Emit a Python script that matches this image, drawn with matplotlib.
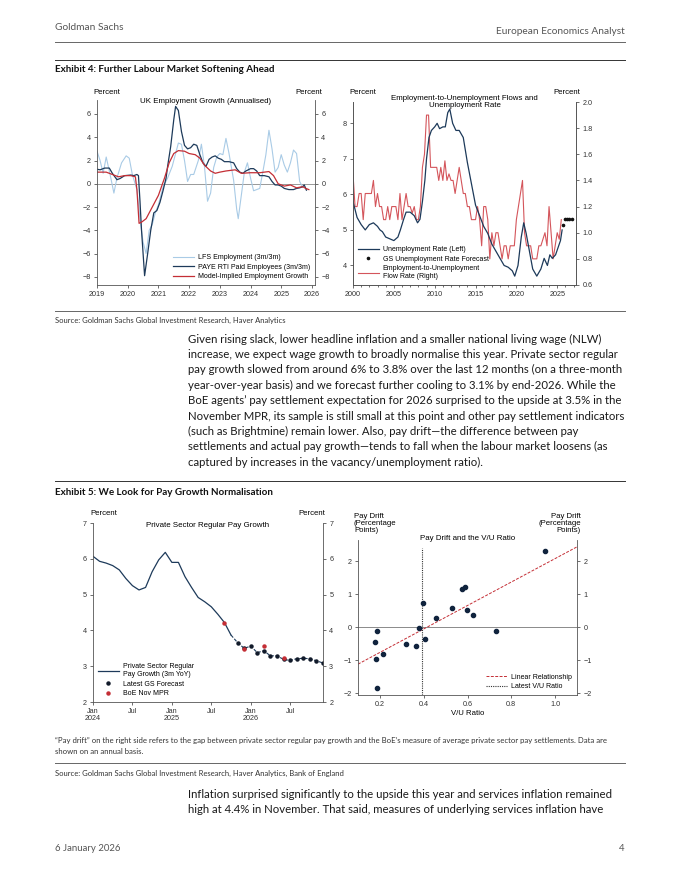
import numpy as np
import matplotlib
matplotlib.use("Agg")
from matplotlib import pyplot as plt
from matplotlib.lines import Line2D

# ---- page text ----
header_left = "Goldman Sachs"
header_right = "European Economics Analyst"
ex4_title = "Exhibit 4: Further Labour Market Softening Ahead"
ex4_source = "Source: Goldman Sachs Global Investment Research, Haver Analytics"
body1 = [
    "Given rising slack, lower headline inflation and a smaller national living wage (NLW)",
    "increase, we expect wage growth to broadly normalise this year. Private sector regular",
    "pay growth slowed from around 6% to 3.8% over the last 12 months (on a three-month",
    "year-over-year basis) and we forecast further cooling to 3.1% by end-2026. While the",
    "BoE agents\u2019 pay settlement expectation for 2026 surprised to the upside at 3.5% in the",
    "November MPR, its sample is still small at this point and other pay settlement indicators",
    "(such as Brightmine) remain lower. Also, pay drift\u2014the difference between pay",
    "settlements and actual pay growth\u2014tends to fall when the labour market loosens (as",
    "captured by increases in the vacancy/unemployment ratio).",
]
ex5_title = "Exhibit 5: We Look for Pay Growth Normalisation"
ex5_note = [
    "\u201cPay drift\u201d on the right side refers to the gap between private sector regular pay growth and the BoE\u2019s measure of average private sector pay settlements. Data are",
    "shown on an annual basis.",
]
ex5_source = "Source: Goldman Sachs Global Investment Research, Haver Analytics, Bank of England"
body2 = [
    "Inflation surprised significantly to the upside this year and services inflation remained",
    "high at 4.4% in November. That said, measures of underlying services inflation have",
]
footer_left = "6 January 2026"
footer_right = "4"

# ---- Exhibit 4 left: UK employment growth ----
paye_t = [2019.0, 2019.1, 2019.25, 2019.4, 2019.5, 2019.65, 2019.75, 2019.9, 2020.1, 2020.2,
          2020.3, 2020.35, 2020.4, 2020.45, 2020.55, 2020.65, 2020.75, 2020.85, 2020.95, 2021.05,
          2021.15, 2021.25, 2021.3, 2021.4, 2021.5, 2021.56, 2021.65, 2021.75, 2021.85, 2021.95,
          2022.05, 2022.15, 2022.25, 2022.35, 2022.45, 2022.55, 2022.65, 2022.75, 2022.85, 2022.95,
          2023.05, 2023.15, 2023.3, 2023.45, 2023.55, 2023.65, 2023.75, 2023.85, 2024.0, 2024.1,
          2024.2, 2024.3, 2024.45, 2024.6, 2024.7, 2024.8, 2024.9, 2025.0, 2025.1, 2025.25,
          2025.4, 2025.5, 2025.6, 2025.7, 2025.75, 2025.82]
paye_v = [1.25, 1.2, 1.35, 1.35, 0.9, 0.35, 0.45, 0.7, 0.75, 0.7,
          0.8, 0.7, -1.5, -4.0, -7.9, -6.0, -4.0, -2.5, -2.3, -1.6,
          -0.6, 0.5, 1.5, 3.2, 5.5, 6.65, 6.3, 4.5, 3.3, 3.0,
          3.1, 3.4, 3.3, 2.5, 1.8, 1.5, 2.1, 2.3, 2.4, 2.2,
          2.1, 1.9, 1.9, 1.8, 1.3, 1.0, 0.9, 1.1, 1.3, 1.3,
          1.1, 0.7, 0.7, 0.6, 0.2, -0.1, -0.1, -0.2, -0.4, -0.5,
          -0.5, -0.4, -0.35, -0.25, -0.1, -0.55]
model_t = [2019.0, 2019.3, 2019.5, 2019.7, 2019.9, 2020.1, 2020.25, 2020.3, 2020.37, 2020.45,
           2020.6, 2020.8, 2021.0, 2021.2, 2021.35, 2021.5, 2021.65, 2021.85, 2022.0, 2022.2,
           2022.35, 2022.5, 2022.7, 2022.85, 2023.0, 2023.2, 2023.5, 2023.7, 2024.0, 2024.3,
           2024.6, 2024.75, 2024.9, 2025.1, 2025.3, 2025.5, 2025.7, 2025.8, 2025.9]
model_v = [1.0, 1.0, 0.8, 0.6, 0.7, 0.7, 0.6, -0.5, -3.4, -3.3,
           -3.0, -2.0, -1.0, 0.5, 1.8, 2.6, 2.85, 2.8, 2.6, 2.5,
           2.2, 1.6, 1.1, 0.9, 1.0, 1.1, 1.2, 0.9, 0.95, 0.95,
           1.05, 0.7, 0.0, -0.2, -0.1, -0.35, -0.25, -0.4, -0.5]
lfs_t = [2019.0, 2019.1, 2019.2, 2019.3, 2019.45, 2019.55, 2019.65, 2019.8, 2019.95, 2020.05,
         2020.15, 2020.3, 2020.4, 2020.5, 2020.6, 2020.7, 2020.8, 2020.9, 2021.0, 2021.15,
         2021.3, 2021.45, 2021.55, 2021.65, 2021.75, 2021.85, 2021.95, 2022.05, 2022.15, 2022.3,
         2022.4, 2022.5, 2022.6, 2022.7, 2022.8, 2022.9, 2023.0, 2023.1, 2023.2, 2023.3,
         2023.45, 2023.55, 2023.6, 2023.7, 2023.8, 2023.9, 2024.0, 2024.1, 2024.2, 2024.3,
         2024.4, 2024.5, 2024.6, 2024.7, 2024.8, 2024.9, 2025.0, 2025.1, 2025.2, 2025.3,
         2025.4, 2025.5, 2025.6, 2025.7]
lfs_v = [2.8, 2.0, 0.9, 2.3, 0.5, -0.8, 0.5, 1.8, 2.4, 2.2,
         0.8, -0.5, -3.0, -5.0, -6.0, -4.0, -3.5, -2.5, -1.8, -0.3,
         0.5, 1.5, 2.5, 3.5, 3.4, 2.0, 0.2, 0.8, 0.8, 2.0,
         3.4, 1.5, -1.5, -0.8, 1.4, 2.3, 2.6, 2.5, 3.9, 2.6,
         0.3, -2.2, -3.0, -1.0, 1.0, 1.8, 0.5, -0.6, -0.5, -0.4,
         1.0, 2.5, 4.6, 3.0, 1.0, 1.4, 2.5, 1.6, 1.0, 1.8,
         2.9, 2.6, 0.2, -0.3]

# ---- Exhibit 4 right: unemployment rate and E-to-U flows ----
ur_t = [2000.0, 2000.5, 2001.0, 2001.5, 2002.0, 2002.5, 2003.0, 2003.3, 2003.6, 2004.0,
        2004.5, 2005.0, 2005.5, 2005.8, 2006.2, 2006.5, 2007.0, 2007.5, 2007.9, 2008.2,
        2008.5, 2008.8, 2009.0, 2009.3, 2009.6, 2010.0, 2010.3, 2010.6, 2011.0, 2011.3,
        2011.6, 2011.85, 2012.2, 2012.6, 2013.0, 2013.5, 2014.0, 2014.5, 2015.0, 2015.5,
        2016.0, 2016.5, 2017.0, 2017.5, 2018.0, 2018.5, 2019.0, 2019.5, 2019.8, 2020.2,
        2020.6, 2020.9, 2021.2, 2021.6, 2022.0, 2022.5, 2023.0, 2023.4, 2023.8, 2024.1,
        2024.4, 2024.8, 2025.1, 2025.4, 2025.6]
ur_v = [5.8, 5.35, 5.15, 5.0, 5.15, 5.2, 5.1, 5.0, 4.95, 4.8,
        4.75, 4.7, 4.8, 5.0, 5.3, 5.5, 5.5, 5.4, 5.2, 5.3,
        5.8, 6.4, 7.0, 7.6, 7.8, 7.9, 8.0, 7.85, 7.9, 7.9,
        8.3, 8.4, 8.0, 7.8, 7.8, 7.6, 6.9, 6.3, 5.7, 5.4,
        5.1, 4.9, 4.6, 4.4, 4.2, 4.0, 3.95, 3.85, 3.7, 4.0,
        4.8, 5.2, 4.9, 4.4, 3.9, 3.7, 3.9, 4.2, 4.0, 4.3,
        4.2, 4.3, 4.5, 4.7, 5.0]
ur_fc_t = [2025.75, 2026.0, 2026.25, 2026.5, 2026.75]
ur_fc_v = [5.15, 5.3, 5.3, 5.3, 5.3]
flow_t0 = 2000.0  # quarterly from Q1 2000
flow_v = [1.45, 1.2, 1.2, 1.3, 1.3, 1.1, 1.3, 1.3, 1.3, 1.3,
          1.4, 1.2, 1.3, 1.2, 1.2, 1.1, 1.1, 1.2, 1.1, 1.2,
          1.2, 1.2, 1.1, 1.3, 1.1, 1.2, 1.3, 1.2, 1.2, 1.15,
          1.2, 1.1, 1.1, 1.2, 1.5, 1.6, 1.9, 1.9, 1.5, 1.5,
          1.5, 1.5, 1.4, 1.5, 1.4, 1.55, 1.4, 1.45, 1.4, 1.4,
          1.3, 1.4, 1.5, 1.4, 1.3, 1.3, 1.2, 1.2, 1.1, 1.1,
          1.1, 1.2, 1.1, 0.9, 1.2, 1.2, 1.1, 0.8, 1.0, 0.9,
          1.0, 1.0, 0.9, 0.8, 0.9, 0.9, 0.8, 0.9, 0.9, 0.9,
          1.1, 1.2, 1.3, 1.4, 1.0, 0.9, 0.9, 0.9, 0.8, 0.8,
          0.8, 0.9, 0.9, 0.95, 1.0, 0.9, 1.2, 1.0, 0.8, 0.9,
          1.0, 0.95, 1.1]

# ---- Exhibit 5 left: private sector regular pay growth (months since Jan 2024) ----
pay_actual = [6.07, 5.93, 5.88, 5.81, 5.69, 5.45, 5.25, 5.13, 5.2, 5.64,
              5.97, 6.18, 5.9, 5.9, 5.5, 5.2, 4.92, 4.8, 4.66, 4.45,
              4.22, 3.87]
pay_fc = [3.66, 3.50, 3.56, 3.38, 3.43, 3.29, 3.29, 3.19, 3.16, 3.21,
          3.22, 3.21, 3.15, 3.09]
boe_m = [20, 23, 26, 29]
boe_v = [4.22, 3.48, 3.57, 3.24]
pay_ticks = [0, 6, 12, 18, 24, 30]
pay_ticklabels = ["Jan\n2024", "Jul", "Jan\n2025", "Jul", "Jan\n2026", "Jul"]

# ---- Exhibit 5 right: pay drift vs V/U ratio ----
vu = [0.952, 0.577, 0.589, 0.398, 0.529, 0.597, 0.627, 0.454, 0.378, 0.728,
      0.186, 0.179, 0.408, 0.319, 0.366, 0.212, 0.183, 0.189]
drift = [2.32, 1.17, 1.21, 0.74, 0.60, 0.53, 0.38, 0.28, -0.03, -0.12,
         -0.10, -0.44, -0.35, -0.50, -0.56, -0.82, -0.95, -1.83]
latest_vu = 0.393

NAVY = "#1d3a5a"
RED = "#c42e35"
FLOWRED = "#d4555b"
LIGHT = "#a9cbe6"
GREY = "#555555"
CH = "Liberation Sans"
PAGE = "Lato"
TS = 5.2    # tick labels
LS = 5.0    # legends
TT = 5.7    # chart titles
AL = 5.6    # axis unit labels

plt.rcParams["font.family"] = [CH, "DejaVu Sans"]
plt.rcParams["axes.linewidth"] = 0.6
plt.rcParams["axes.edgecolor"] = GREY

fig = plt.figure(figsize=(6.8, 8.8), dpi=100)


def fx(x):
    return x / 680.0


def fy(y):
    return 1 - y / 880.0


def hline(y, x0=55, x1=625, lw=0.7, color="#666666"):
    fig.add_artist(Line2D([fx(x0), fx(x1)], [fy(y), fy(y)], lw=lw, color=color,
                          transform=fig.transFigure))


def ptext(x, y, s, size, **kw):
    kw.setdefault("family", [PAGE, "DejaVu Sans"])
    kw.setdefault("va", "center")
    fig.text(fx(x), fy(y), s, fontsize=size, **kw)


def make_axes(l, t, r, b):
    ax = fig.add_axes([fx(l), fy(b), (r - l) / 680.0, (b - t) / 880.0])
    ax.spines["top"].set_visible(False)
    ax.tick_params(labelsize=TS, length=2.5, width=0.5, colors="#333333", pad=2)
    return ax


def legend(ax, handles, labels, loc):
    ax.legend(handles, labels, loc=loc, frameon=False, fontsize=LS, handlelength=3.0,
              handletextpad=0.6, labelspacing=0.35, borderaxespad=0.3)


# header / footer and page text
ptext(55, 28, header_left, 7.3, color="#555555")
ptext(625, 32, header_right, 7.3, color="#555555", ha="right")
hline(42)
hline(60, color="#333333")
ptext(55, 70, ex4_title, 7.1, weight="bold", color="#111111")
hline(311)
ptext(55, 320, ex4_source, 5.5, color="#333333")
for i, line in enumerate(body1):
    ptext(188, 339 + i * 15.4, line, 8.2, color="#1a1a1a")
hline(481, color="#333333")
ptext(55, 492, ex5_title, 7.1, weight="bold", color="#111111")
for i, line in enumerate(ex5_note):
    ptext(55, 740 + i * 11, line, 5.6, color="#333333")
hline(763)
ptext(55, 773, ex5_source, 5.5, color="#333333")
for i, line in enumerate(body2):
    ptext(188, 794 + i * 15.4, line, 8.2, color="#1a1a1a")
ptext(55, 848, footer_left, 6.9, color="#555555")
ptext(625, 848, footer_right, 6.9, color="#555555", ha="right")

# ---- Exhibit 4 left ----
ax = make_axes(97, 100, 315, 285)
ax.axhline(0, color="#888888", lw=0.6)
h1, = ax.plot(lfs_t, lfs_v, color=LIGHT, lw=0.8)
h2, = ax.plot(paye_t, paye_v, color=NAVY, lw=0.9)
h3, = ax.plot(model_t, model_v, color=RED, lw=0.9)
ax.set_xlim(2019, 2026.1)
ax.set_ylim(-8.7, 7.2)
ax.set_xticks(range(2019, 2027))
ax.set_yticks(range(-8, 7, 2))
ax.tick_params(right=True, labelright=True)
legend(ax, [h1, h2, h3], ["LFS Employment (3m/3m)", "PAYE RTI Paid Employees (3m/3m)",
                          "Model-Implied Employment Growth"], "lower right")
ax.set_title("UK Employment Growth (Annualised)", fontsize=TT, y=0.985, pad=0)
ptext(93, 93, "Percent", AL, family=CH, ha="left")
ptext(322, 93, "Percent", AL, family=CH, ha="right")

# ---- Exhibit 4 right ----
ax = make_axes(353, 102, 576, 285)
ax2 = ax.twinx()
ax2.spines["top"].set_visible(False)
ax2.tick_params(labelsize=TS, length=2.5, width=0.5, colors="#333333", pad=2)
flow_t = flow_t0 + 0.25 * np.arange(len(flow_v))
l3, = ax2.plot(flow_t, flow_v, color=FLOWRED, lw=0.8)
l1, = ax.plot(ur_t, ur_v, color=NAVY, lw=0.9)
l2, = ax.plot(ur_fc_t, ur_fc_v, ls="none", marker="o", ms=1.6, color="#111111")
ax.set_zorder(ax2.get_zorder() + 1)
ax.patch.set_visible(False)
ax.set_xlim(2000, 2027.3)
ax.set_ylim(3.45, 8.6)
ax2.set_ylim(0.6, 2.0)
ax.set_yticks([4, 5, 6, 7, 8])
ax2.set_yticks(np.arange(0.6, 2.01, 0.2))
ax2.set_yticklabels(["%.1f" % v for v in np.arange(0.6, 2.01, 0.2)])
ax.set_xticks(range(2000, 2026, 5))
ax.set_xticks(range(2000, 2028), minor=True)
ax.tick_params(axis="x", which="minor", length=1.5, width=0.4)
legend(ax, [l1, l2, l3], ["Unemployment Rate (Left)", "GS Unemployment Rate Forecast",
                          "Employment-to-Unemployment\nFlow Rate (Right)"], "lower left")
ax.set_title("Employment-to-Unemployment Flows and\nUnemployment Rate", fontsize=TT,
             y=0.97, pad=0, linespacing=1.0)
ptext(349, 93, "Percent", AL, family=CH, ha="left")
ptext(580, 93, "Percent", AL, family=CH, ha="right")

# ---- Exhibit 5 left ----
ax = make_axes(93, 523, 323, 702)
n_act = len(pay_actual)
m_act = np.arange(n_act)
m_fc = np.arange(n_act, n_act + len(pay_fc))
pl, = ax.plot(m_act, pay_actual, color=NAVY, lw=0.9)
ax.plot(np.r_[m_act[-1], m_fc], np.r_[pay_actual[-1], pay_fc], color=NAVY, lw=0.8, ls=(0, (3, 1.5)))
pf, = ax.plot(m_fc, pay_fc, ls="none", marker="o", ms=2.2, color="#111a2a")
pb, = ax.plot(boe_m, boe_v, ls="none", marker="o", ms=2.2, color=RED)
ax.set_xlim(0, 35)
ax.set_ylim(2, 7)
ax.set_xticks(pay_ticks)
ax.set_xticklabels(pay_ticklabels, linespacing=0.95)
ax.set_yticks(range(2, 8))
ax.tick_params(right=True, labelright=True)
legend(ax, [pl, pf, pb], ["Private Sector Regular\nPay Growth (3m YoY)", "Latest GS Forecast",
                          "BoE Nov MPR"], "lower left")
ax.set_title("Private Sector Regular Pay Growth", fontsize=TT, y=0.975, pad=0)
ptext(90, 513, "Percent", AL, family=CH, ha="left")
ptext(325, 513, "Percent", AL, family=CH, ha="right")

# ---- Exhibit 5 right ----
ax = make_axes(358, 540, 577, 695)
ax.axhline(0, color="#777777", lw=0.6)
slope, icept = np.polyfit(vu, drift, 1)
xs = np.array([0.1, 1.1])
lf, = ax.plot(xs, icept + slope * xs, color=RED, lw=0.7, ls=(0, (3, 1.5)))
ax.vlines(latest_vu, -2.05, 2.4, color="#333333", lw=0.8, linestyles=(0, (1, 1)))
ax.scatter(vu, drift, s=9, color="#10233d", zorder=3)
ax.set_xlim(0.1, 1.1)
ax.set_ylim(-2.05, 2.65)
ax.set_xticks([0.2, 0.4, 0.6, 0.8, 1.0])
ax.set_yticks([-2, -1, 0, 1, 2])
ax.tick_params(right=True, labelright=True)
ax.set_xlabel("V/U Ratio", fontsize=AL, labelpad=1)
legend(ax, [lf, Line2D([], [], color="#333333", lw=0.8, ls=(0, (1, 1)))],
       ["Linear Relationship", "Latest V/U Ratio"], "lower right")
ax.set_title("Pay Drift and the V/U Ratio", fontsize=TT, y=1.0, pad=0)
ptext(354, 523, "Pay Drift\n(Percentage\nPoints)", AL, family=CH, ha="left", linespacing=1.0)
ptext(581, 523, "Pay Drift\n(Percentage\nPoints)", AL, family=CH, ha="right", linespacing=1.0,
      multialignment="right")

fig.savefig("out.png", dpi=100)
